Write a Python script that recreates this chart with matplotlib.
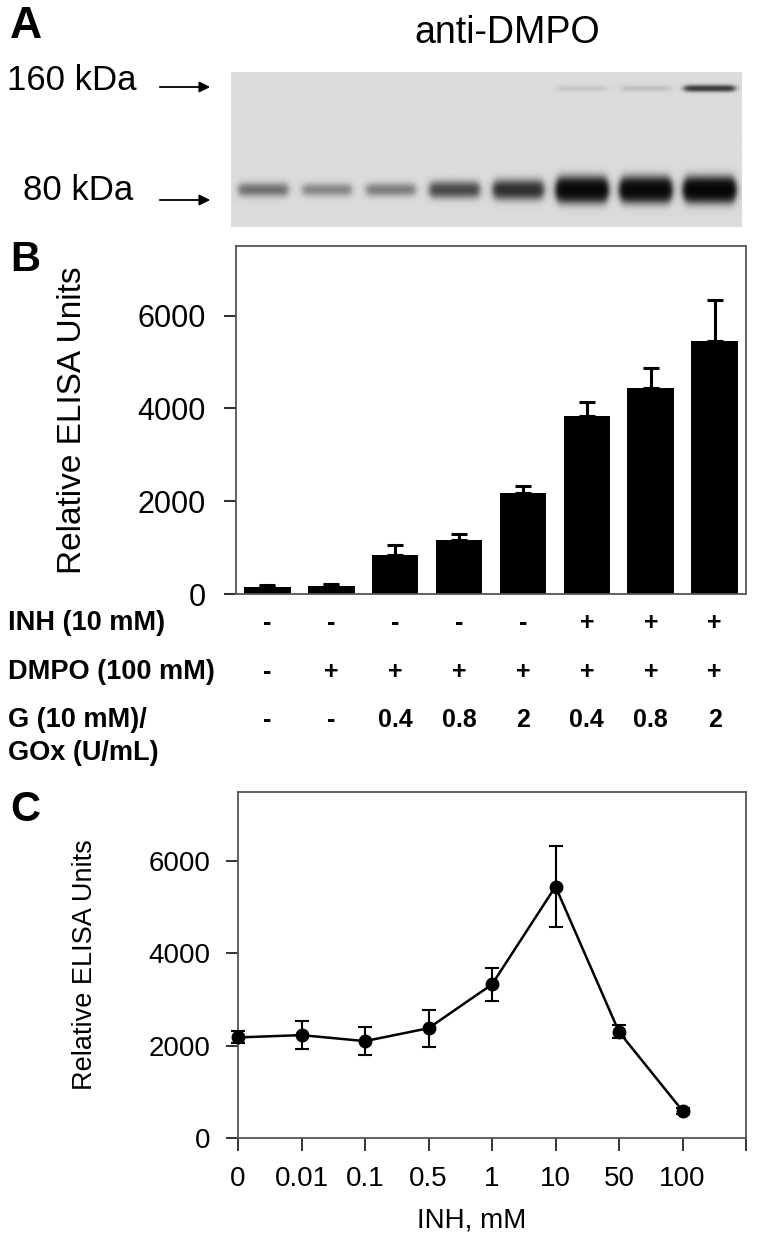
import numpy as np
import matplotlib
matplotlib.use('Agg')
import matplotlib.pyplot as plt
from matplotlib.transforms import blended_transform_factory

plt.rcParams['font.family'] = ['Liberation Sans', 'DejaVu Sans']

# panel A - band darkness read from the blot (80 kDa and 160 kDa)
band_80 = [0.3, 0.22, 0.25, 0.5, 0.7, 1.5, 1.5, 1.6]
band_160 = [0, 0, 0, 0, 0, 0.05, 0.06, 0.6]

# panel B
elisa_b = [150, 170, 850, 1170, 2180, 3840, 4430, 5450]
elisa_b_err = [40, 40, 210, 130, 140, 300, 450, 880]
row_names = ['INH (10 mM)', 'DMPO (100 mM)', 'G (10 mM)/', 'GOx (U/mL)']
inh_row = ['-', '-', '-', '-', '-', '+', '+', '+']
dmpo_row = ['-', '+', '+', '+', '+', '+', '+', '+']
gox_row = ['-', '-', '0.4', '0.8', '2', '0.4', '0.8', '2']

# panel C
inh_labels = ['0', '0.01', '0.1', '0.5', '1', '10', '50', '100']
elisa_c = [2180, 2230, 2100, 2380, 3330, 5450, 2300, 590]
elisa_c_err = [130, 310, 310, 400, 350, 880, 140, 60]

fig = plt.figure(figsize=(7.59, 12.42), dpi=100)
W, H = 759.0, 1242.0


def box(l, t, r, b):
    return [l / W, 1 - b / H, (r - l) / W, (b - t) / H]


grey = '#555555'

# ---------------- A: blot ----------------
axa = fig.add_axes(box(231, 72, 742, 227))
xs = np.linspace(-0.5, 7.5, 512)
ys = np.linspace(0, 155, 156)
X, Y = np.meshgrid(xs, ys)
dens = np.zeros_like(X)
for i in range(len(band_80)):
    hx = 1 / (1 + np.exp((np.abs(X - i) - 0.38) / 0.03))
    s80 = 5 + 5 * min(band_80[i], 1)
    dens += band_80[i] * hx * np.exp(-((Y - 118) / s80) ** 2)
    dens += band_160[i] * hx * np.exp(-((Y - 16) / 3.0) ** 2)
bg = 0.86
img = bg * np.exp(-2.2 * dens)
axa.imshow(img, cmap='gray', vmin=0, vmax=1, extent=(-0.5, 7.5, 155, 0),
           aspect='auto', interpolation='bilinear')
axa.axis('off')

fig.text(10 / W, 1 - 6 / H, 'A', fontsize=32, fontweight='bold', va='top')
fig.text(507 / W, 1 - 33 / H, 'anti-DMPO', fontsize=27, ha='center', va='center')
fig.text(7 / W, 1 - 80 / H, '160 kDa', fontsize=25, ha='left', va='center')
fig.text(23 / W, 1 - 190 / H, '80 kDa', fontsize=25, ha='left', va='center')
for yy in [87, 200]:
    fig.add_artist(matplotlib.patches.FancyArrowPatch(
        (157 / W, 1 - yy / H), (213 / W, 1 - yy / H), transform=fig.transFigure,
        arrowstyle='-|>', mutation_scale=16, lw=1.3, color='black'))

# ---------------- B: bars ----------------
axb = fig.add_axes(box(236, 246, 746, 594))
xb = np.arange(len(elisa_b))
axb.bar(xb, elisa_b, width=0.73, color='black', zorder=2)
axb.errorbar(xb, elisa_b, yerr=[np.zeros(len(elisa_b)), elisa_b_err], fmt='none',
             ecolor='black', elinewidth=2.2, capsize=5.5, capthick=2.2, zorder=3)
axb.set_xlim(-0.49, 7.49)
axb.set_ylim(0, 7500)
axb.set_yticks([0, 2000, 4000, 6000])
axb.set_xticks([])
axb.tick_params(axis='y', direction='out', length=9, width=1.5, color='#333333',
                labelsize=22, pad=13)
for sp in axb.spines.values():
    sp.set_color(grey)
    sp.set_linewidth(1.3)
axb.set_ylabel('Relative ELISA Units', fontsize=24)
axb.yaxis.set_label_coords(-0.29, 0.5)
fig.text(10 / W, 1 - 240 / H, 'B', fontsize=30, fontweight='bold', va='top')

# treatment rows under the bars
tr = blended_transform_factory(axb.transData, fig.transFigure)
for name, yy in zip(row_names, [623, 672, 720, 753]):
    fig.text(8 / W, 1 - yy / H, name, fontsize=19.5, fontweight='bold', va='center')
for row, yy in zip([inh_row, dmpo_row, gox_row], [623, 672, 720]):
    for i, s in enumerate(row):
        axb.text(i, 1 - yy / H, s, transform=tr, ha='center', va='center',
                 fontsize=18, fontweight='bold',
                 family=['Liberation Sans Narrow', 'Liberation Sans'])

# ---------------- C: line ----------------
axc = fig.add_axes(box(238, 792, 746, 1138))
xc = np.arange(len(elisa_c))
axc.errorbar(xc, elisa_c, yerr=elisa_c_err, fmt='-o', color='black', ms=9, lw=1.8,
             elinewidth=1.5, capsize=5, capthick=1.5, clip_on=False, zorder=3)
axc.set_xlim(0, 8)
axc.set_ylim(0, 7500)
axc.set_yticks([0, 2000, 4000, 6000])
axc.set_xticks(np.arange(9))
axc.set_xticklabels(inh_labels + [''])
axc.tick_params(direction='out', length=9, width=1.4, color='#333333',
                labelsize=20, pad=11)
for sp in axc.spines.values():
    sp.set_color(grey)
    sp.set_linewidth(1.3)
axc.set_ylabel('Relative ELISA Units', fontsize=19.5)
axc.yaxis.set_label_coords(-0.275, 0.5)
axc.set_xlabel('INH, mM', fontsize=20)
axc.xaxis.set_label_coords(0.459, -0.2)
fig.text(10 / W, 1 - 790 / H, 'C', fontsize=30, fontweight='bold', va='top')

fig.savefig('out.png', dpi=100, facecolor='white')
